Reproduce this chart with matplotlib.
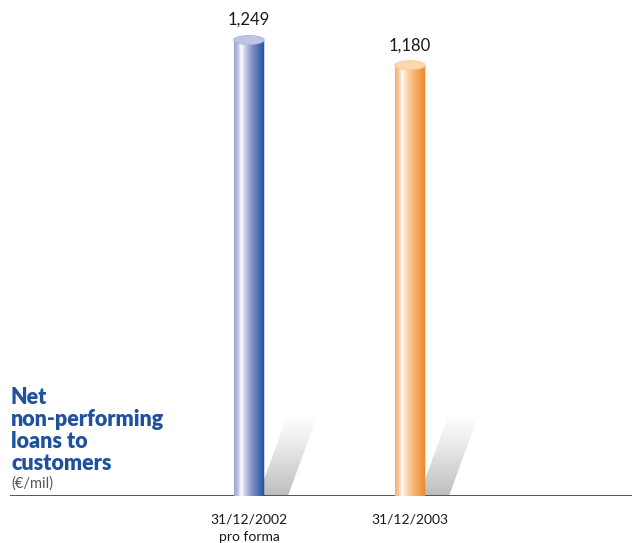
import numpy as np
import matplotlib
matplotlib.use('Agg')
import matplotlib.pyplot as plt
from matplotlib.colors import LinearSegmentedColormap
from matplotlib.patches import Ellipse, Polygon, PathPatch
from matplotlib.path import Path

# ---- data ----
categories = ['31/12/2002\npro forma', '31/12/2003']
values = [1249, 1180]
value_labels = ['1,249', '1,180']
title_lines = ['Net', 'non-performing', 'loans to', 'customers']
unit_label = '(€/mil)'

# ---- styles ----
plt.rcParams['font.family'] = ['Lato', 'DejaVu Sans']
W, H = 632, 543
fig = plt.figure(figsize=(W / 100, H / 100), dpi=100)
ax = fig.add_axes([10 / W, 47 / H, 622 / W, 496 / H])
ax.set_xlim(-1.484, 2.379)
ax.set_ylim(0, 1358.6)
ax.axis('off')

px_x = 1 / 161.0          # data units per pixel (x)
px_y = 1358.6 / 496.0     # data units per pixel (y)

cmaps = [
    LinearSegmentedColormap.from_list('b', [(0, '#9aa5d6'), (0.12, '#b9c1e4'), (0.24, '#ffffff'),
                                            (0.34, '#cfd4ec'), (0.6, '#7c8dc6'), (1.0, '#1d4f9d')]),
    LinearSegmentedColormap.from_list('o', [(0, '#f4b06c'), (0.12, '#f9cb98'), (0.24, '#ffffff'),
                                            (0.34, '#fde0c0'), (0.6, '#f7b575'), (1.0, '#ec8624')]),
]
top_colors = ['#bdc5e7', '#fdd7ad']
top_edges = ['#aab4df', '#f8c994']

bar_w = 0.19
ell_h = 9 * px_y
xs = np.arange(len(values))

shadow_cmap = LinearSegmentedColormap.from_list('s', [(0, '#ffffff'), (0.35, '#ececec'),
                                                      (0.75, '#d0d0d0'), (1.0, '#bdbdbd')])

for i, (x, v) in enumerate(zip(xs, values)):
    x0, x1 = x - bar_w / 2, x + bar_w / 2
    # shadow
    sh = Polygon([(x + 9 * px_x, 0), (x + 39 * px_x, 0),
                  (x + 69 * px_x, 82 * px_y), (x + 39 * px_x, 82 * px_y)],
                 closed=True, facecolor='none', edgecolor='none')
    ax.add_patch(sh)
    grad = np.linspace(1, 0, 100).reshape(-1, 1)
    im = ax.imshow(grad, extent=(x, x + 70 * px_x, 0, 82 * px_y), origin='lower',
                   cmap=shadow_cmap, aspect='auto', zorder=1, vmin=0, vmax=1.0)
    im.set_clip_path(sh)

    # cylinder body
    t = np.linspace(np.pi, 2 * np.pi, 40)
    arc = np.column_stack([x + bar_w / 2 * np.cos(t), ell_h / 2 * np.sin(t)])
    verts = np.vstack([[x0, v], [x0, 0], arc, [x1, 0], [x1, v], [x0, v]])
    body = PathPatch(Path(verts), facecolor='none', edgecolor='none')
    ax.add_patch(body)
    g = np.linspace(0, 1, 200).reshape(1, -1)
    bim = ax.imshow(g, extent=(x0, x1, -ell_h, v), cmap=cmaps[i], aspect='auto',
                    zorder=2, origin='lower')
    bim.set_clip_path(body)
    # top ellipse
    ax.add_patch(Ellipse((x, v), bar_w, ell_h, facecolor=top_colors[i],
                         edgecolor=top_edges[i], lw=0.6, zorder=3, clip_on=False))
    # value label
    ax.text(x, v + 20 * px_y, value_labels[i], ha='center', va='center',
            fontsize=12, color='#1a1a1a', clip_on=False)
    # category label
    for j, line in enumerate(categories[i].split('\n')):
        ax.text(x, -(23 + 18 * j) * px_y, line, ha='center', va='center',
                fontsize=10, color='#1a1a1a', clip_on=False)

ax.set_xlim(-1.484, 2.379)
ax.set_ylim(0, 1358.6)
ax.axhline(0, color='#555555', lw=1.4, zorder=1.5)

# title block
for k, line in enumerate(title_lines):
    fig.text(11 / W, 1 - (397 + 22.3 * k) / H, line, ha='left', va='center',
             fontsize=15.5, fontweight='heavy', color='#1f519d')
fig.text(11 / W, 1 - 484 / H, unit_label, ha='left', va='center',
         fontsize=10.5, color='#555555')

fig.savefig('out.png', dpi=100)
